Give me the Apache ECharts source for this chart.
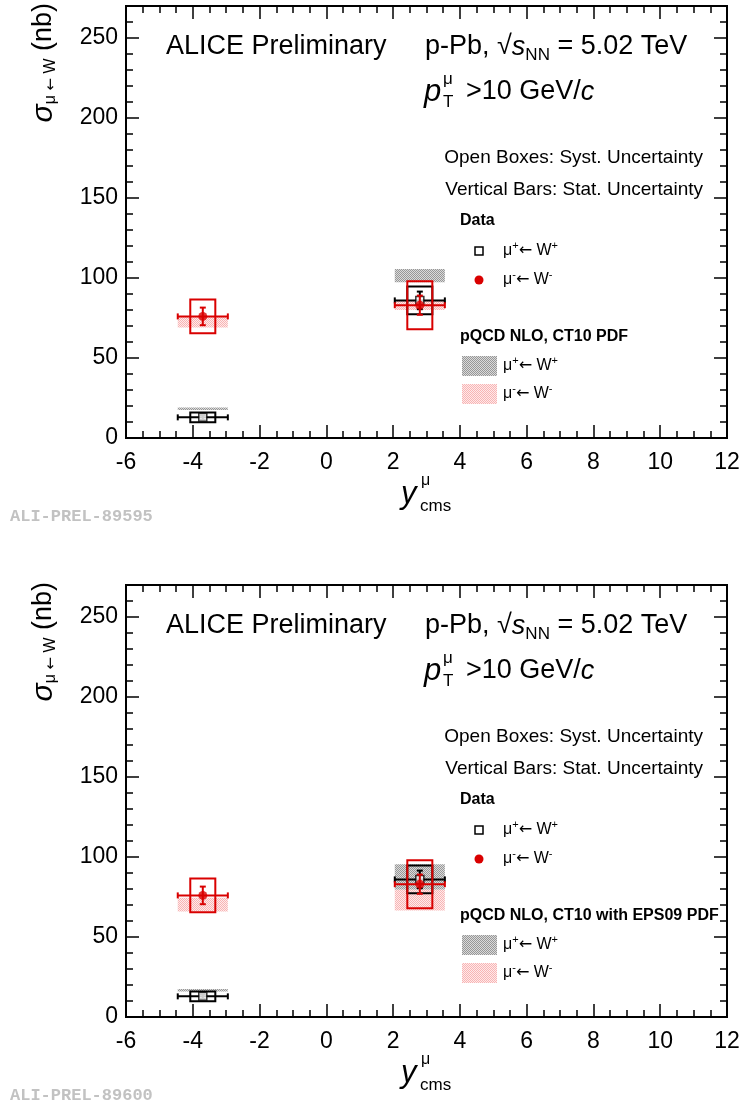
<!DOCTYPE html>
<html>
<head>
<meta charset="utf-8">
<script src="https://cdn.jsdelivr.net/npm/echarts@6/dist/echarts.min.js"></script>
<style>
  html, body { margin: 0; padding: 0; background: #fff; }
  #main { width: 741px; height: 1108px; }
</style>
</head>
<body>
<div id="main"></div>
<script>
// 测量点 (y_cms) 及其半宽
const yCms = [-3.7, 2.8]
const yCmsHalfWidth = [0.75, 0.75]
const systBoxHalfWidth = [0.375, 0.375]
// 数据 mu+ <- W+
const muPlusValue = [12.9, 86]
const muPlusStat = [1.5, 5.5]
const muPlusSyst = [3.1, 8.7]
// 数据 mu- <- W-
const muMinusValue = [76, 83]
const muMinusStat = [5.5, 6]
const muMinusSyst = [10.6, 15]
// 理论 pQCD NLO, CT10 PDF
const ct10PlusLow = [17.5, 97.3]
const ct10PlusHigh = [19, 105.6]
const ct10MinusLow = [69, 80]
const ct10MinusHigh = [75.6, 86]
// 理论 pQCD NLO, CT10 with EPS09 PDF
const eps09PlusLow = [16, 79.5]
const eps09PlusHigh = [17.5, 95.5]
const eps09MinusLow = [66, 66.5]
const eps09MinusHigh = [74.5, 79.5]
// 坐标轴刻度
const xRange = [-6, 12]
const xMajorStep = 2
const xMinorStep = 0.5
const yRange = [0, 270]
const yMajorStep = 50
const yMinorStep = 10

const FONT = 'Liberation Sans, Arial, Helvetica, sans-serif'
const ARROW_FONT = 'DejaVu Sans, sans-serif'
const RED = '#d90000'

// 两个面板
const panels = [
  {
    top: 6,
    theoryTitle: 'pQCD NLO, CT10 PDF',
    plusLow: ct10PlusLow, plusHigh: ct10PlusHigh,
    minusLow: ct10MinusLow, minusHigh: ct10MinusHigh,
    tag: 'ALI-PREL-89595'
  },
  {
    top: 585,
    theoryTitle: 'pQCD NLO, CT10 with EPS09 PDF',
    plusLow: eps09PlusLow, plusHigh: eps09PlusHigh,
    minusLow: eps09MinusLow, minusHigh: eps09MinusHigh,
    tag: 'ALI-PREL-89600'
  }
]

// 网点填充
function makePattern(dot, bg) {
  const cv = document.createElement('canvas')
  cv.width = 4
  cv.height = 4
  const ctx = cv.getContext('2d')
  ctx.fillStyle = bg
  ctx.fillRect(0, 0, 4, 4)
  ctx.fillStyle = dot
  for (let i = 0; i < 4; i++) {
    for (let j = 0; j < 4; j++) {
      if ((i + j) % 2 === 0) ctx.fillRect(i, j, 1, 1)
    }
  }
  return { image: cv, repeat: 'repeat' }
}
const greyFill = makePattern('#979797', '#dadada')
const pinkFill = makePattern('#f8b4b4', '#feeaea')

// 数据整理
function bandData(low, high) {
  return yCms.map((x, i) => [x, yCmsHalfWidth[i], low[i], high[i]])
}
function boxData(value, syst) {
  return yCms.map((x, i) => [x, value[i], systBoxHalfWidth[i], syst[i]])
}
function errData(value, stat) {
  return yCms.map((x, i) => [x, value[i], yCmsHalfWidth[i], stat[i]])
}
function pointData(value) {
  return yCms.map((x, i) => [x, value[i]])
}

// renderItem
function bandRenderer(fill) {
  return function (params, api) {
    const x = api.value(0), hw = api.value(1)
    const p0 = api.coord([x - hw, api.value(3)])
    const p1 = api.coord([x + hw, api.value(2)])
    return {
      type: 'rect',
      shape: { x: p0[0], y: p0[1], width: p1[0] - p0[0], height: p1[1] - p0[1] },
      style: { fill: fill }
    }
  }
}
function boxRenderer(color) {
  return function (params, api) {
    const x = api.value(0), y = api.value(1), hw = api.value(2), s = api.value(3)
    const p0 = api.coord([x - hw, y + s])
    const p1 = api.coord([x + hw, y - s])
    return {
      type: 'rect',
      shape: { x: p0[0], y: p0[1], width: p1[0] - p0[0], height: p1[1] - p0[1] },
      style: { fill: 'none', stroke: color, lineWidth: 2 }
    }
  }
}
function errorRenderer(color) {
  return function (params, api) {
    const x = api.value(0), y = api.value(1), hw = api.value(2), st = api.value(3)
    const l = api.coord([x - hw, y]), r = api.coord([x + hw, y])
    const t = api.coord([x, y + st]), b = api.coord([x, y - st])
    const cap = 3
    const line = (x1, y1, x2, y2) => ({
      type: 'line',
      shape: { x1, y1, x2, y2 },
      style: { stroke: color, lineWidth: 2 }
    })
    return {
      type: 'group',
      children: [
        line(l[0], l[1], r[0], r[1]),
        line(l[0], l[1] - cap, l[0], l[1] + cap),
        line(r[0], r[1] - cap, r[0], r[1] + cap),
        line(t[0], t[1], b[0], b[1]),
        line(t[0] - cap, t[1], t[0] + cap, t[1]),
        line(b[0] - cap, b[1], b[0] + cap, b[1])
      ]
    }
  }
}

// 坐标轴
function axisBase(g, range) {
  return {
    gridIndex: g,
    type: 'value',
    min: range[0],
    max: range[1],
    splitLine: { show: false },
    axisLine: { show: true, onZero: false, lineStyle: { color: '#000', width: 2 } }
  }
}
function tick(len) {
  return { show: true, inside: true, length: len, lineStyle: { color: '#000', width: 1.5 } }
}
function makeXAxes(g) {
  const label = {
    show: true, margin: 13, color: '#000', fontSize: 23, fontFamily: FONT
  }
  return [
    Object.assign(axisBase(g, xRange), { position: 'bottom', interval: xMajorStep, axisTick: tick(13), axisLabel: label }),
    Object.assign(axisBase(g, xRange), { position: 'bottom', interval: xMinorStep, axisTick: tick(7), axisLabel: { show: false } }),
    Object.assign(axisBase(g, xRange), { position: 'top', interval: xMajorStep, axisTick: tick(13), axisLabel: { show: false } }),
    Object.assign(axisBase(g, xRange), { position: 'top', interval: xMinorStep, axisTick: tick(7), axisLabel: { show: false } })
  ]
}
function makeYAxes(g) {
  const label = {
    show: true, margin: 8, color: '#000', fontSize: 23, fontFamily: FONT,
    formatter: v => (v % yMajorStep === 0 ? String(v) : '')
  }
  return [
    Object.assign(axisBase(g, yRange), { position: 'left', interval: yMajorStep, axisTick: tick(13), axisLabel: label }),
    Object.assign(axisBase(g, yRange), { position: 'left', interval: yMinorStep, axisTick: tick(7), axisLabel: { show: false } }),
    Object.assign(axisBase(g, yRange), { position: 'right', interval: yMajorStep, axisTick: tick(13), axisLabel: { show: false } }),
    Object.assign(axisBase(g, yRange), { position: 'right', interval: yMinorStep, axisTick: tick(7), axisLabel: { show: false } })
  ]
}

// 系列
function makeSeries(g, p) {
  const ax = { xAxisIndex: g * 4, yAxisIndex: g * 4 }
  return [
    Object.assign({ type: 'custom', z: 1, renderItem: bandRenderer(greyFill), data: bandData(p.plusLow, p.plusHigh) }, ax),
    Object.assign({ type: 'custom', z: 1, renderItem: bandRenderer(pinkFill), data: bandData(p.minusLow, p.minusHigh) }, ax),
    Object.assign({ type: 'custom', z: 2, renderItem: boxRenderer('#000'), data: boxData(muPlusValue, muPlusSyst) }, ax),
    Object.assign({ type: 'custom', z: 3, renderItem: errorRenderer('#000'), data: errData(muPlusValue, muPlusStat) }, ax),
    Object.assign({
      type: 'scatter', z: 4, symbol: 'rect', symbolSize: 8,
      itemStyle: { color: '#fff', borderColor: '#000', borderWidth: 1.5 },
      data: pointData(muPlusValue)
    }, ax),
    Object.assign({ type: 'custom', z: 5, renderItem: boxRenderer(RED), data: boxData(muMinusValue, muMinusSyst) }, ax),
    Object.assign({ type: 'custom', z: 6, renderItem: errorRenderer(RED), data: errData(muMinusValue, muMinusStat) }, ax),
    Object.assign({
      type: 'scatter', z: 7, symbol: 'circle', symbolSize: 9,
      itemStyle: { color: RED },
      data: pointData(muMinusValue)
    }, ax)
  ]
}

// 文本
function tok(size, extra) {
  return Object.assign({ fontSize: size, fontFamily: FONT, fill: '#000' }, extra || {})
}
function txt(x, y, text, rich, align, extra) {
  const a = align || 'left'
  return Object.assign({
    type: 'text', x: x, y: y, z: 100, silent: true,
    style: {
      text: text, rich: rich, fontSize: 16, fontFamily: FONT, fill: '#000',
      align: a, textAlign: a, verticalAlign: 'middle', textVerticalAlign: 'middle'
    }
  }, extra || {})
}
const richBig = {
  n: tok(27),
  i: tok(27, { fontStyle: 'italic' }),
  sub: tok(17, { padding: [16, 0, 0, 0] })
}
const richYTitle = {
  n: tok(27),
  s: tok(30, { fontStyle: 'italic' }),
  ys: tok(16, { padding: [14, 0, 0, 0] }),
  ya: tok(15, { fontFamily: ARROW_FONT, padding: [14, 0, 0, 0] })
}
const richMid = { n: tok(19) }
const richBold = { b: tok(16, { fontWeight: 'bold' }) }
const richLeg = {
  n: tok(16),
  a: tok(16, { fontFamily: ARROW_FONT }),
  sup: tok(11, { padding: [0, 0, 10, 0] })
}
const plusLabel = '{n|\u03BC}{sup|+}{a|\u2190}{n| W}{sup|+}'
const minusLabel = '{n|\u03BC}{sup|-}{a|\u2190}{n| W}{sup|-}'

function panelGraphics(p) {
  const oy = p.top - 6
  const items = [
    txt(166, 47 + oy, '{n|ALICE Preliminary}', richBig),
    txt(425, 47 + oy, '{n|p-Pb, \u221A}{i|s}{sub|NN}{n| = 5.02 TeV}', richBig),
    // p_T^mu > 10 GeV/c
    txt(424, 92 + oy, '{i|p}', { i: tok(31, { fontStyle: 'italic' }) }),
    txt(443, 79 + oy, '{n|\u03BC}', { n: tok(17) }),
    txt(443, 102 + oy, '{n|T}', { n: tok(17) }),
    txt(466, 92 + oy, '{n|>10 GeV/}{i|c}', richBig),
    txt(703, 158 + oy, '{n|Open Boxes: Syst. Uncertainty}', richMid, 'right'),
    txt(703, 190 + oy, '{n|Vertical Bars: Stat. Uncertainty}', richMid, 'right'),
    txt(460, 221 + oy, '{b|Data}', richBold),
    txt(503, 251 + oy, plusLabel, richLeg),
    txt(503, 280 + oy, minusLabel, richLeg),
    txt(460, 337 + oy, '{b|' + p.theoryTitle + '}', richBold),
    txt(503, 366 + oy, plusLabel, richLeg),
    txt(503, 394 + oy, minusLabel, richLeg),
    // 图例符号
    {
      type: 'rect', z: 100, silent: true,
      shape: { x: 475, y: 247 + oy, width: 8, height: 8 },
      style: { fill: '#fff', stroke: '#000', lineWidth: 1.5 }
    },
    {
      type: 'circle', z: 100, silent: true,
      shape: { cx: 479, cy: 280 + oy, r: 4.5 },
      style: { fill: RED }
    },
    {
      type: 'rect', z: 100, silent: true,
      shape: { x: 462, y: 356 + oy, width: 35, height: 20 },
      style: { fill: greyFill }
    },
    {
      type: 'rect', z: 100, silent: true,
      shape: { x: 462, y: 384 + oy, width: 35, height: 20 },
      style: { fill: pinkFill }
    },
    // y轴标题
    txt(44, 3 + oy, '{s|\u03C3}{ys|\u03BC }{ya|\u2190}{ys| W}{n| (nb)}', richYTitle, 'right', { rotation: Math.PI / 2 }),
    // x轴标题
    txt(401, 494 + oy, '{i|y}', { i: tok(31, { fontStyle: 'italic' }) }),
    txt(421, 481 + oy, '{n|\u03BC}', { n: tok(16) }),
    txt(420, 506 + oy, '{n|cms}', { n: tok(17) }),
    // 编号
    {
      type: 'text', x: 10, y: 517 + oy, z: 100, silent: true,
      style: {
        text: p.tag, fontSize: 17, fontFamily: 'Liberation Mono, monospace', fontWeight: 'bold',
        fill: '#c2c2c2', align: 'left', textAlign: 'left', verticalAlign: 'middle', textVerticalAlign: 'middle'
      }
    }
  ]
  return items
}

const grids = panels.map(p => ({
  left: 126, top: p.top, width: 601, height: 432,
  containLabel: false, outerBoundsMode: 'none'
}))
let xAxes = [], yAxes = [], series = [], graphics = []
panels.forEach((p, g) => {
  xAxes = xAxes.concat(makeXAxes(g))
  yAxes = yAxes.concat(makeYAxes(g))
  series = series.concat(makeSeries(g, p))
  graphics = graphics.concat(panelGraphics(p))
})

const option = {
  animation: false,
  backgroundColor: '#fff',
  grid: grids,
  xAxis: xAxes,
  yAxis: yAxes,
  series: series,
  graphic: { elements: graphics }
}
const chart = echarts.init(document.getElementById('main'), null, { renderer: 'canvas' })
chart.setOption(option)
window.addEventListener('resize', chart.resize)
</script>
</body>
</html>
